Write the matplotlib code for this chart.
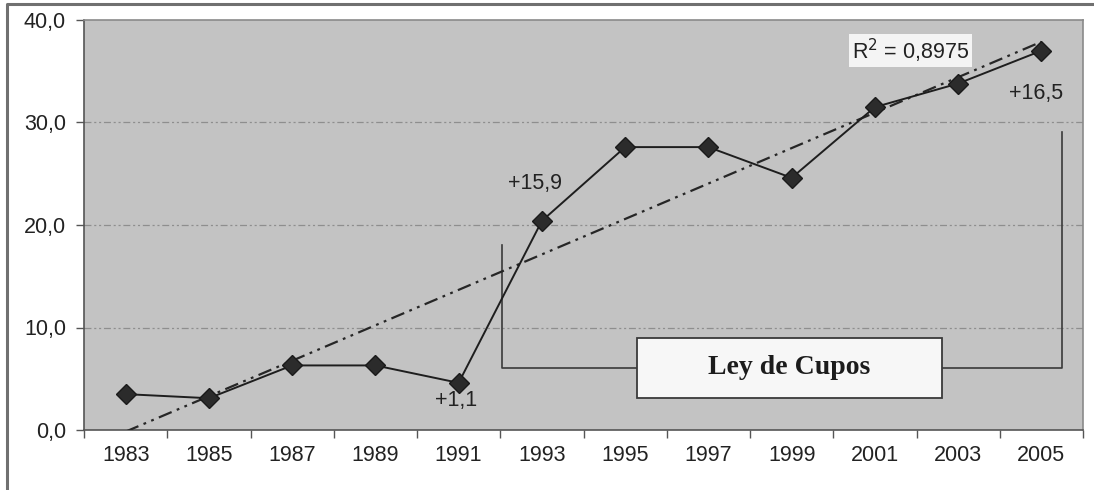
"""
Ley de Cupos chart: share per election year with linear trend.
"""

import matplotlib

matplotlib.use("Agg")
import matplotlib.pyplot as plt
import numpy as np
from matplotlib.lines import Line2D

years = ["1983", "1985", "1987", "1989", "1991", "1993",
         "1995", "1997", "1999", "2001", "2003", "2005"]
values = [3.5, 3.1, 6.3, 6.3, 4.6, 20.4, 27.6, 27.6, 24.6, 31.5, 33.8, 37.0]
y_ticks = [0, 10, 20, 30, 40]
y_labels = ["0,0", "10,0", "20,0", "30,0", "40,0"]
r2_label = "R$^2$ = 0,8975"
jump_labels = [("+1,1", 3.97, 2.9), ("+15,9", 4.92, 24.0), ("+16,5", 10.94, 32.8)]
law_label = "Ley de Cupos"

plt.rcParams["font.family"] = ["Liberation Sans", "DejaVu Sans"]
plt.rcParams["lines.scale_dashes"] = False

W, H = 1094, 490
fig = plt.figure(figsize=(W / 100, H / 100), dpi=100)
fig.patch.set_facecolor("white")
ax = fig.add_axes([84 / W, (H - 430) / H, (1083 - 84) / W, (430 - 20) / H])
ax.set_facecolor("#c3c3c3")

x = np.arange(len(years))
ax.set_xlim(-0.5, len(years) - 0.5)
ax.set_ylim(0, 40)

# grid lines (dash-dot-dot like the Excel default)
for yv in y_ticks[1:-1]:
    ax.axhline(yv, color="#8e8e8e", lw=0.9, ls=(0, (5, 2, 1.5, 2, 1.5, 2)), zorder=1)

# linear trend
slope, icpt = np.polyfit(x + 1, values, 1)
trend = slope * (x + 1) + icpt
ax.plot(x, trend, color="#262626", lw=1.6, ls=(0, (10, 4, 2, 4, 2, 4)), zorder=3)

ax.plot(x, values, color="#1e1e1e", lw=1.4, marker="D", ms=10,
        mfc="#2b2b2b", mec="#1a1a1a", zorder=4)

# bracket for the quota law
bx_left, bx_right, by_line = 4.52, 11.25, 6.06
ax.plot([bx_left, bx_left, bx_right, bx_right], [18.0, by_line, by_line, 29.05],
        color="#3a3a3a", lw=1.2, zorder=2)
box = plt.Rectangle((6.14, 3.13), 9.81 - 6.14, 9.0 - 3.13, fc="#f7f7f7",
                    ec="#3a3a3a", lw=1.3, zorder=4.5)
ax.add_patch(box)
ax.text(7.97, by_line, law_label, ha="center", va="center", fontsize=20,
        family=["Liberation Serif", "DejaVu Serif"], fontweight="bold", color="#1c1c1c",
        zorder=5)

for txt, tx, ty in jump_labels:
    ax.text(tx, ty, txt, ha="center", va="center", fontsize=15.5, color="#222222", zorder=6)

ax.text(9.43, 37.0, r2_label, ha="center", va="center", fontsize=15.5, color="#222222",
        bbox=dict(boxstyle="square,pad=0.12", fc="#f4f4f4", ec="none"), zorder=6)

# axes / ticks
ax.set_yticks(y_ticks)
ax.set_yticklabels(y_labels)
ax.set_xticks(x)
ax.set_xticklabels(years)
ax.set_xticks(np.arange(-0.5, len(years), 1.0), minor=True)
ax.tick_params(axis="x", which="major", length=0, pad=11, labelsize=15.5, labelcolor="#222222")
ax.tick_params(axis="x", which="minor", length=6, width=1, color="#555555", direction="out")
ax.tick_params(axis="y", length=6, width=1, color="#555555", direction="out", pad=7,
               labelsize=15.5, labelcolor="#222222")
for side in ("top", "right"):
    ax.spines[side].set_color("#8a8a8a")
    ax.spines[side].set_linewidth(1.2)
for side in ("left", "bottom"):
    ax.spines[side].set_color("#555555")
    ax.spines[side].set_linewidth(1.2)

# outer frame (cut at right and bottom in the source scan)
fig.add_artist(Line2D([7 / W, 7 / W, 1.0], [0.0, 1 - 4 / H, 1 - 4 / H],
                      transform=fig.transFigure, color="#707070", lw=2.2))

fig.savefig("out.png", dpi=100)
